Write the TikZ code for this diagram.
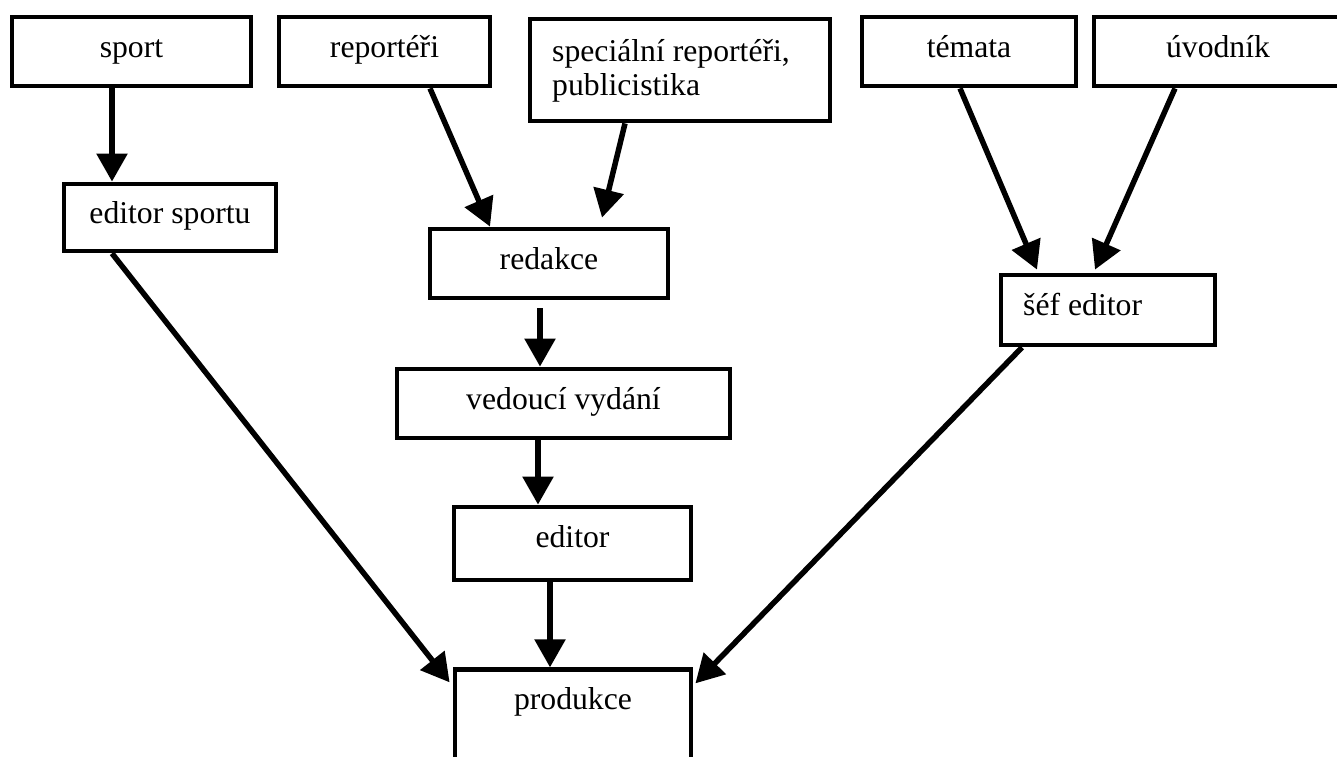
\documentclass[tikz,border=0pt]{standalone}
\usepackage{fontspec}
\setmainfont{Liberation Serif}
\usetikzlibrary{arrows.meta}

\begin{document}
\begin{tikzpicture}[x=1pt, y=-1pt,
  box/.style={draw, line width=4.8pt, inner sep=0pt, rectangle, fill=white},
  txt/.style={inner sep=0pt, font=\fontsize{31.7}{34}\selectfont},
  flow/.style={line width=5.5pt, -{Triangle[length=28pt,width=30pt]}}]

\fill[white] (0,0) rectangle (1337,756);
\path[use as bounding box] (0,0) rectangle (1337,756);
\clip (0,0) rectangle (1337,756);

% top row of sources
\node[box, minimum width=239pt, minimum height=69pt] (sport) at (131.5,51.5) {};
\node[txt, anchor=base] (sportT) at (131.5,57) {sport};

\node[box, minimum width=211pt, minimum height=69pt] (report) at (384.5,51.5) {};
\node[txt, anchor=base] (reportT) at (384.5,57) {reportéři};

\node[box, minimum width=300pt, minimum height=102pt] (spec) at (680,70) {};
\node[txt, anchor=base west] (specT) at (552,61)
  {\begin{tabular}[t]{@{}l@{}}speciální reportéři,\\publicistika\end{tabular}};

\node[box, minimum width=214pt, minimum height=69pt] (temata) at (969,51.5) {};
\node[txt, anchor=base] (temataT) at (969,57) {témata};

\node[box, minimum width=248pt, minimum height=69pt] (uvodnik) at (1218,51.5) {};
\node[txt, anchor=base] (uvodnikT) at (1218,57) {úvodník};

% intermediate editors
\node[box, minimum width=212pt, minimum height=67pt] (edsport) at (170,217.5) {};
\node[txt, anchor=base] (edsportT) at (170,223) {editor sportu};

\node[box, minimum width=238pt, minimum height=69pt] (redakce) at (549,263.5) {};
\node[txt, anchor=base] (redakceT) at (549,269) {redakce};

\node[box, minimum width=333pt, minimum height=69pt] (vedouci) at (563.5,403.5) {};
\node[txt, anchor=base] (vedouciT) at (563.5,409) {vedoucí vydání};

\node[box, minimum width=237pt, minimum height=73pt] (editor) at (572.5,543.5) {};
\node[txt, anchor=base] (editorT) at (572.5,547) {editor};

\node[box, minimum width=214pt, minimum height=70pt] (sef) at (1108,310) {};
\node[txt, anchor=base west] (sefT) at (1023,315) {šéf editor};

% final stage
\node[box, minimum width=236pt, minimum height=120pt] (produkce) at (573,729.75) {};
\node[txt, anchor=base] (produkceT) at (573,709) {produkce};

% connectors
\draw[flow] ([xshift=-19.5pt]sport.south) -- ([xshift=-58pt]edsport.north);
\draw[flow] ([xshift=45.5pt]report.south) -- ([xshift=-59pt]redakce.north);
\draw[flow] ([xshift=-55pt]spec.south) -- ([xshift=53pt,yshift=9pt]redakce.north);
\draw[flow] ([xshift=-9pt,yshift=-8pt]redakce.south) -- ([xshift=-23.5pt]vedouci.north);
\draw[flow] ([xshift=-25.5pt]vedouci.south) -- ([xshift=-34.5pt]editor.north);
\draw[flow] ([xshift=-22.5pt]editor.south) -- ([xshift=-23pt]produkce.north);
\draw[flow] ([xshift=-58pt]edsport.south) -- ([xshift=-3pt,yshift=-15pt]produkce.north west);
\draw[flow] ([xshift=-86pt]sef.south) -- ([xshift=2pt,yshift=-16pt]produkce.north east);
\draw[flow] ([xshift=-9pt]temata.south) -- ([xshift=-71pt,yshift=3pt]sef.north);
\draw[flow] ([xshift=-43pt]uvodnik.south) -- ([xshift=-13pt,yshift=3pt]sef.north);

\end{tikzpicture}
\end{document}
